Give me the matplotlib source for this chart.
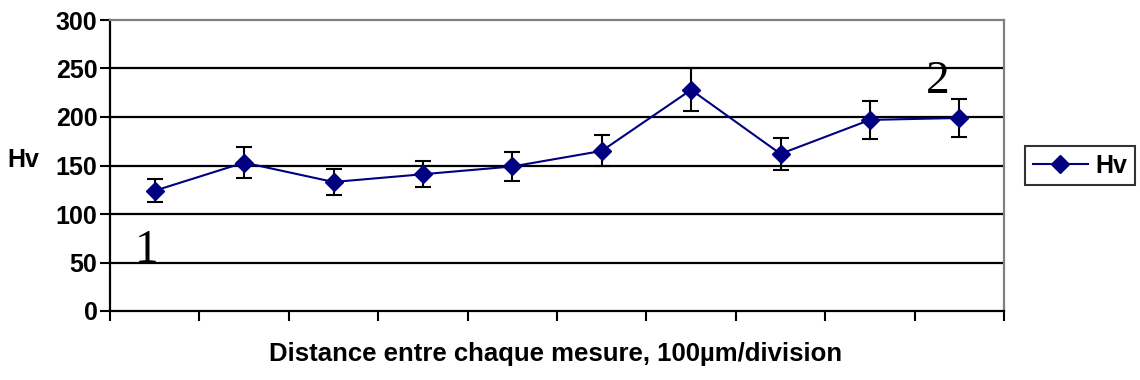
import numpy as np
import matplotlib.pyplot as plt

# microhardness along the profile
positions = np.arange(10) + 0.5
hv = [124, 153, 133, 141, 149, 165, 228, 162, 197, 199]
hv_err = [12, 16, 13.5, 13.5, 15, 16, 22, 16.5, 19.5, 19.5]
y_ticks = [0, 50, 100, 150, 200, 250, 300]

NAVY = "#000080"

plt.rcParams["font.family"] = ["Liberation Sans", "DejaVu Sans"]

fig = plt.figure(figsize=(11.4, 3.8), dpi=100)
ax = fig.add_axes([110 / 1140, 1 - 311 / 380, 894 / 1140, 291 / 380])

# horizontal gridlines
for y in y_ticks[1:-1]:
    ax.axhline(y, color="black", linewidth=1.6, zorder=1)

ax.errorbar(positions, hv, yerr=hv_err, fmt="none", ecolor="black",
            elinewidth=1.5, capsize=5.5, capthick=1.5, zorder=2)
ax.plot(positions, hv, color=NAVY, linewidth=1.5, marker="D",
        markersize=9.5, markerfacecolor=NAVY, markeredgecolor=NAVY,
        label="Hv", zorder=3)

ax.set_xlim(0, 10)
ax.set_ylim(0, 300)
ax.set_xticks(np.arange(11))
ax.set_xticklabels([])
ax.set_yticks(y_ticks)
ax.tick_params(axis="y", direction="out", length=7, width=1.5,
               labelsize=18, pad=2)
ax.tick_params(axis="x", direction="out", length=7, width=1.5)
for lbl in ax.get_yticklabels():
    lbl.set_fontweight("bold")

ax.spines["left"].set_linewidth(1.6)
ax.spines["bottom"].set_linewidth(1.6)
ax.spines["top"].set_color("#808080")
ax.spines["right"].set_color("#808080")
ax.spines["top"].set_linewidth(1.6)
ax.spines["right"].set_linewidth(1.6)

fig.text(556 / 1140, 1 - 354 / 380, "Distance entre chaque mesure, 100µm/division",
         fontsize=18.5, fontweight="bold", ha="center", va="center")
fig.text(7 / 1140, 1 - 160 / 380, "Hv", fontsize=18, fontweight="bold",
         ha="left", va="center")

ax.text(0.41, 51, "1", family="Liberation Serif", fontsize=34,
        ha="center", va="baseline")
ax.text(9.26, 225, "2", family="Liberation Serif", fontsize=34,
        ha="center", va="baseline")

leg = fig.legend(loc="center", bbox_to_anchor=(1080 / 1140, 1 - 165.5 / 380),
                 frameon=True, fancybox=False, prop={"size": 18, "weight": "bold"},
                 handlelength=2.2, handletextpad=0.3, borderpad=0.3,
                 borderaxespad=0)
leg.get_frame().set_edgecolor("black")
leg.get_frame().set_linewidth(1.5)

fig.savefig("out.png", dpi=100)
